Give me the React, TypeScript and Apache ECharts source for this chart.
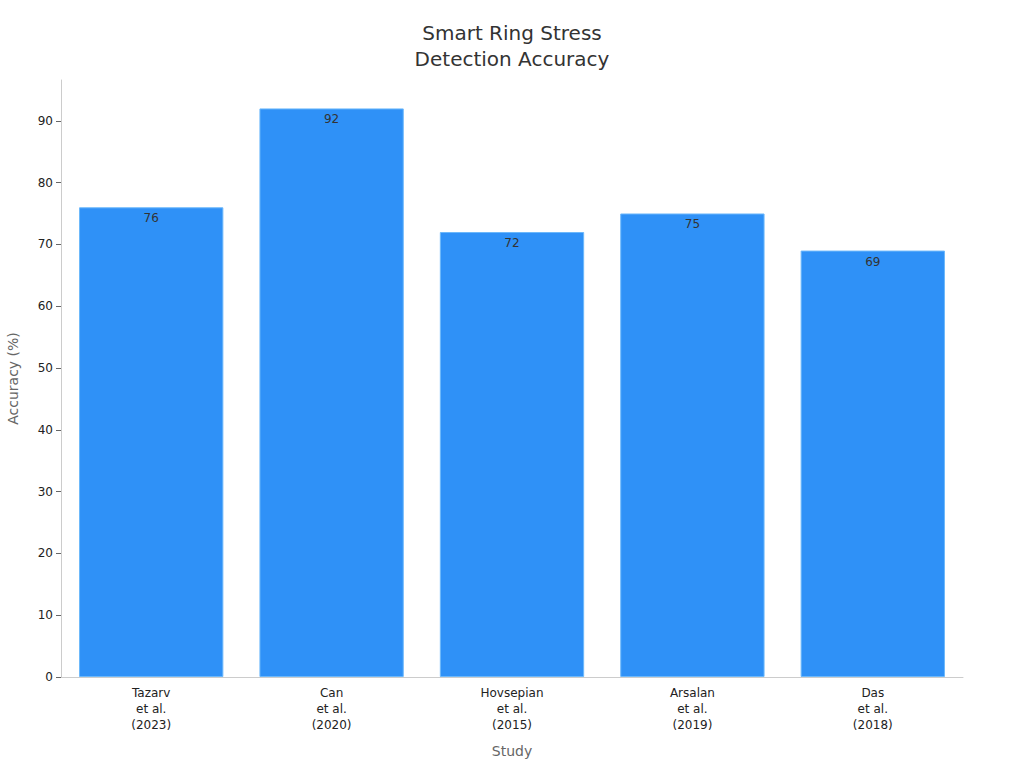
import React, { useEffect, useRef } from "react";
import * as echarts from "echarts";

const categories = [
  "Tazarv\net al.\n(2023)",
  "Can\net al.\n(2020)",
  "Hovsepian\net al.\n(2015)",
  "Arsalan\net al.\n(2019)",
  "Das\net al.\n(2018)",
];
const accuracy = [76, 92, 72, 75, 69];
const yTicks = [0, 10, 20, 30, 40, 50, 60, 70, 80, 90];

export default function App() {
  const ref = useRef<HTMLDivElement>(null);
  useEffect(() => {
    document.body.style.margin = "0";
    const chart = echarts.init(ref.current!, null, { renderer: "svg" });
    const font = "DejaVu Sans";
    chart.setOption({
      animation: false,
      textStyle: { fontFamily: font },
      title: {
        text: "Smart Ring Stress\nDetection Accuracy",
        left: "center",
        top: 15,
        textStyle: { fontFamily: font, fontSize: 20, fontWeight: "normal", color: "#333", lineHeight: 26 },
      },
      grid: { left: 61, right: 61, top: 80, bottom: 91, containLabel: false, outerBoundsMode: "none" },
      xAxis: {
        type: "category",
        data: categories,
        name: "Study",
        nameLocation: "middle",
        nameGap: 67,
        nameTextStyle: { fontFamily: font, fontSize: 14, color: "#666" },
        axisLine: { lineStyle: { color: "#ccc" } },
        axisTick: { alignWithLabel: true, lineStyle: { color: "#666" }, length: 5 },
        axisLabel: { fontFamily: font, fontSize: 12, color: "#222", lineHeight: 16, margin: 8 },
      },
      yAxis: {
        type: "value",
        min: 0,
        max: 96.6,
        interval: 10,
        name: "Accuracy (%)",
        nameLocation: "middle",
        nameGap: 41,
        nameTextStyle: { fontFamily: font, fontSize: 14, color: "#666" },
        axisLine: { show: true, lineStyle: { color: "#ccc" } },
        axisTick: { show: true, lineStyle: { color: "#666" }, length: 5, customValues: yTicks },
        splitLine: { show: false },
        axisLabel: {
          fontFamily: font,
          fontSize: 12,
          color: "#222",
          margin: 8,
          customValues: yTicks,
        },
      },
      series: [
        {
          type: "bar",
          data: accuracy,
          barCategoryGap: "20%",
          itemStyle: { color: "#2f91f7", borderColor: "#6cb8fb", borderWidth: 1 },
          label: {
            show: true,
            position: "insideTop",
            distance: 5,
            fontFamily: font,
            fontSize: 12,
            color: "#333",
          },
        },
      ],
    });
    return () => chart.dispose();
  }, []);
  return <div ref={ref} style={{ width: 1024, height: 768 }} />;
}
